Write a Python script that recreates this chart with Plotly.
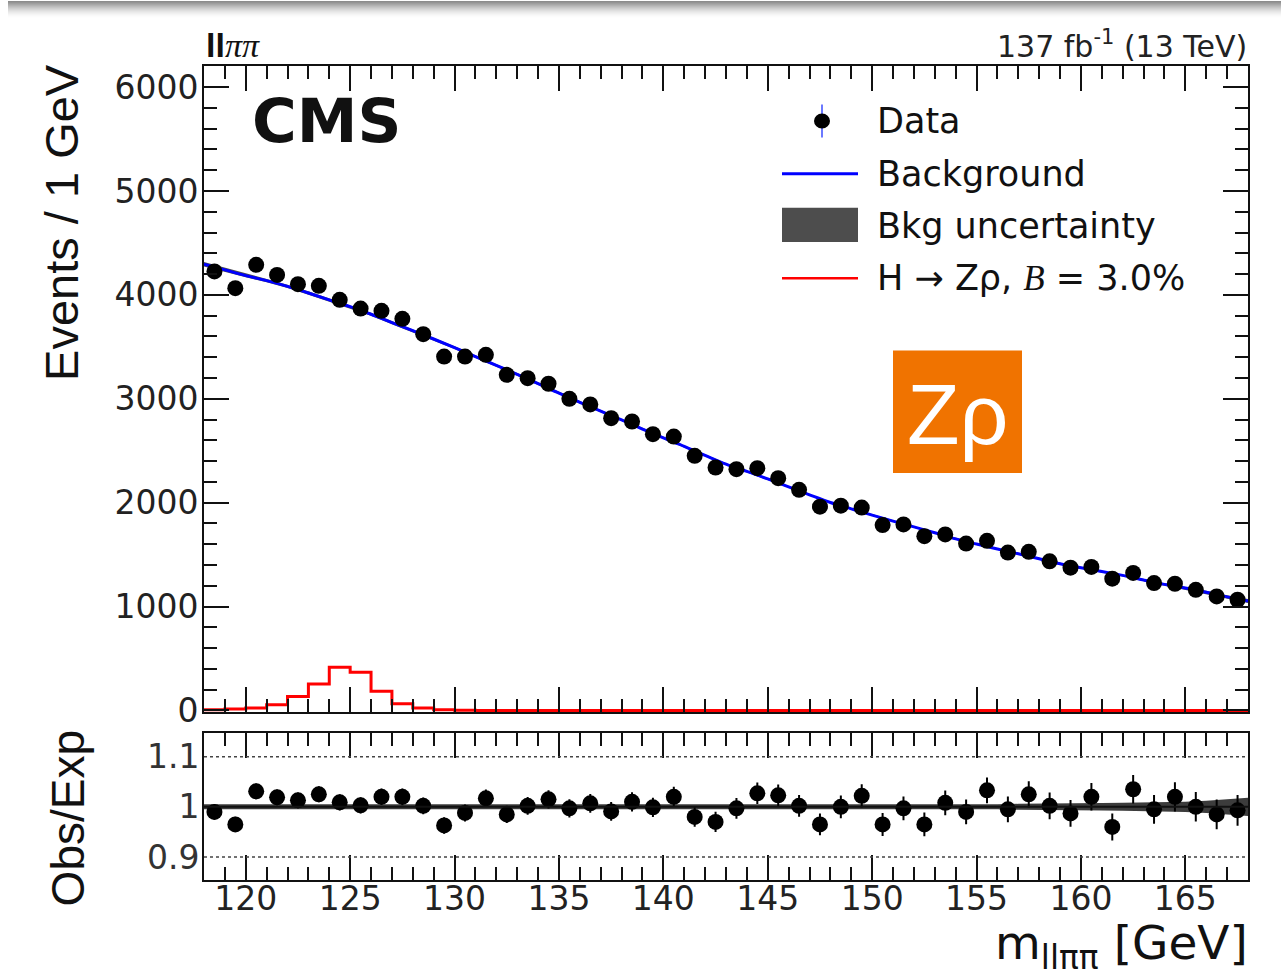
import numpy as np
import plotly.graph_objects as go

W, H = 1281, 980
H_PAPER = 958  # vertical pixel extent that paper coordinates span on the page

# ---- values -------------------------------------------------------------
# 1 GeV bins spanning 118-168 GeV
bin_edges = list(range(118, 169))
bin_centers = [e + 0.5 for e in range(118, 168)]

data_counts = [4225, 4064, 4289, 4192, 4103, 4087, 3952, 3868, 3846, 3769,
               3621, 3406, 3406, 3423, 3230, 3198, 3144, 2999, 2945, 2813,
               2781, 2659, 2636, 2450, 2338, 2322, 2332, 2235, 2123, 1961,
               1971, 1952, 1784, 1790, 1677, 1694, 1606, 1632, 1519, 1526,
               1435, 1374, 1381, 1268, 1323, 1226, 1219, 1161, 1097, 1065]

obs_exp = [0.990, 0.965, 1.031, 1.019, 1.013, 1.025, 1.009, 1.003, 1.020, 1.020,
           1.002, 0.963, 0.988, 1.017, 0.985, 1.002, 1.015, 0.997, 1.007, 0.991,
           1.010, 0.999, 1.020, 0.980, 0.970, 0.997, 1.027, 1.023, 1.002, 0.965,
           1.000, 1.022, 0.965, 0.997, 0.965, 1.008, 0.990, 1.033, 0.995, 1.025,
           1.002, 0.987, 1.020, 0.960, 1.035, 0.995, 1.020, 1.000, 0.985, 0.993]

# background fit evaluated at the bin edges
bkg_fit = [4295, 4240, 4185, 4137, 4082, 4018, 3952, 3886, 3813, 3733,
           3655, 3575, 3492, 3406, 3322, 3235, 3145, 3053, 2966, 2881,
           2796, 2708, 2623, 2542, 2455, 2370, 2300, 2228, 2152, 2075,
           2001, 1940, 1880, 1822, 1766, 1710, 1651, 1601, 1553, 1508,
           1460, 1412, 1373, 1337, 1300, 1255, 1213, 1178, 1137, 1093, 1053]

# relative background uncertainty at the bin edges
bkg_rel_unc = [0.005, 0.005, 0.004, 0.004, 0.004, 0.004, 0.004, 0.004, 0.004, 0.004,
               0.004, 0.004, 0.004, 0.004, 0.004, 0.004, 0.004, 0.004, 0.004, 0.004,
               0.004, 0.004, 0.004, 0.004, 0.004, 0.004, 0.004, 0.004, 0.004, 0.004,
               0.004, 0.004, 0.004, 0.004, 0.004, 0.004, 0.005, 0.005, 0.005, 0.006,
               0.006, 0.007, 0.007, 0.0075, 0.008, 0.0085, 0.009, 0.010, 0.012, 0.015, 0.018]

# H -> Z rho signal, B = 3.0 %
signal = [6, 13, 22, 55, 135, 255, 416, 368, 184, 65,
          23, 6, 2, 0, 0, 0, 0, 0, 0, 0,
          0, 0, 0, 0, 0, 0, 0, 0, 0, 0,
          0, 0, 0, 0, 0, 0, 0, 0, 0, 0,
          0, 0, 0, 0, 0, 0, 0, 0, 0, 0]

x_ticks = [120, 125, 130, 135, 140, 145, 150, 155, 160, 165]
ratio_ticks = [0.9, 1.0, 1.1]
ratio_tick_text = ["0.9", "1", "1.1"]

# ---- derived arrays --------------------------------------------------------
bkg = np.array(bkg_fit, dtype=float)
unc = np.array(bkg_rel_unc)
counts = np.array(data_counts, dtype=float)
ratio = np.array(obs_exp)
count_err = np.sqrt(counts)
ratio_err = ratio / np.sqrt(counts)

BLACK = "#111111"
FONT = "DejaVu Sans"
HELV = "Liberation Sans"


def px(x):
    return x / W


def py(y):
    return 1 - y / H_PAPER


fig = go.Figure()

# main panel: background uncertainty band
fig.add_trace(go.Scatter(x=bin_edges, y=bkg * (1 + unc), mode="lines",
                         line=dict(width=0), hoverinfo="skip", showlegend=False,
                         xaxis="x", yaxis="y"))
fig.add_trace(go.Scatter(x=bin_edges, y=bkg * (1 - unc), mode="lines",
                         line=dict(width=0), fill="tonexty", fillcolor="#4d4d4d",
                         hoverinfo="skip", showlegend=False, xaxis="x", yaxis="y"))
# background fit
fig.add_trace(go.Scatter(x=bin_edges, y=bkg, mode="lines",
                         line=dict(color="#0000ff", width=3, shape="spline"),
                         showlegend=False, xaxis="x", yaxis="y"))
# signal histogram
fig.add_trace(go.Scatter(x=bin_edges, y=signal + [signal[-1]], mode="lines",
                         line=dict(color="#ff0000", width=3, shape="hv"),
                         showlegend=False, xaxis="x", yaxis="y"))
# data
fig.add_trace(go.Scatter(x=bin_centers, y=counts, mode="markers",
                         marker=dict(color="black", size=16),
                         error_y=dict(type="data", array=count_err, color="black",
                                      thickness=2, width=0),
                         showlegend=False, xaxis="x", yaxis="y"))

# ratio panel: uncertainty band
fig.add_trace(go.Scatter(x=bin_edges, y=1 + unc, mode="lines", line=dict(width=0),
                         hoverinfo="skip", showlegend=False, xaxis="x2", yaxis="y2"))
fig.add_trace(go.Scatter(x=bin_edges, y=1 - unc, mode="lines", line=dict(width=0),
                         fill="tonexty", fillcolor="#3c3c3c", hoverinfo="skip",
                         showlegend=False, xaxis="x2", yaxis="y2"))
fig.add_trace(go.Scatter(x=bin_centers, y=ratio, mode="markers",
                         marker=dict(color="black", size=16),
                         error_y=dict(type="data", array=ratio_err, color="black",
                                      thickness=2, width=0),
                         showlegend=False, xaxis="x2", yaxis="y2"))

x_dom = [px(204), px(1248)]
common_x = dict(range=[118, 168], showline=True, linewidth=2, linecolor=BLACK,
                mirror="allticks", ticks="inside", ticklen=25, tickwidth=2,
                tickcolor=BLACK, tickvals=x_ticks, showgrid=False, zeroline=False,
                minor=dict(ticks="inside", ticklen=13, tickwidth=2, tickcolor=BLACK,
                           dtick=1, tick0=118, showgrid=False))

fig.update_layout(
    width=W, height=H,
    margin=dict(l=0, r=0, t=0, b=0),
    paper_bgcolor="white", plot_bgcolor="white",
    showlegend=False,
    xaxis=dict(domain=x_dom, anchor="y", showticklabels=False, **common_x),
    yaxis=dict(domain=[py(709), py(66)], anchor="x", range=[-15, 6200],
               showline=True, linewidth=2, linecolor=BLACK, mirror="allticks",
               ticks="inside", ticklen=25, tickwidth=2, tickcolor=BLACK,
               dtick=1000, tick0=0, showgrid=False, zeroline=False,
               tickfont=dict(family=FONT, size=33, color="#222222"),
               ticklabelstandoff=-3,
               minor=dict(ticks="inside", ticklen=13, tickwidth=2, tickcolor=BLACK,
                          dtick=200, showgrid=False)),
    xaxis2=dict(domain=x_dom, anchor="y2", showticklabels=True,
                tickfont=dict(family=FONT, size=33, color="#222222"),
                ticklabelstandoff=-11, **common_x),
    yaxis2=dict(domain=[py(876), py(730)], anchor="x2", range=[0.855, 1.147],
                showline=True, linewidth=2, linecolor=BLACK, mirror=True,
                ticks="", tickvals=ratio_ticks, ticktext=ratio_tick_text,
                showgrid=False, zeroline=False,
                tickfont=dict(family=FONT, size=33, color="#333333"),
                ticklabelstandoff=-4),
)

shapes = []
# dotted reference lines and unit line in the ratio panel
for yv in (0.9, 1.1):
    shapes.append(dict(type="line", xref="x2 domain", yref="y2", x0=0, x1=1,
                       y0=yv, y1=yv, line=dict(color="#444444", width=1.5, dash="dot")))
shapes.append(dict(type="line", xref="x2 domain", yref="y2", x0=0, x1=1, y0=1, y1=1,
                   line=dict(color=BLACK, width=2)))

# legend symbols
shapes += [
    dict(type="line", xref="paper", yref="paper", x0=px(822), x1=px(822),
         y0=py(104), y1=py(137), line=dict(color="#3a4cff", width=1.5)),
    dict(type="circle", xref="paper", yref="paper", x0=px(814), x1=px(830),
         y0=py(128), y1=py(113), fillcolor="black", line=dict(color="black", width=0)),
    dict(type="line", xref="paper", yref="paper", x0=px(782), x1=px(858),
         y0=py(173), y1=py(173), line=dict(color="#0000ff", width=3)),
    dict(type="rect", xref="paper", yref="paper", x0=px(782), x1=px(858),
         y0=py(241), y1=py(207), fillcolor="#4d4d4d", line=dict(width=0)),
    dict(type="line", xref="paper", yref="paper", x0=px(782), x1=px(858),
         y0=py(277), y1=py(277), line=dict(color="#ff0000", width=2.5)),
]

# header shadow strip
greys = [140, 148, 158, 168, 178, 188, 197, 206, 214, 222, 229, 235, 240, 245, 249, 252, 254]
for i, g in enumerate(greys):
    shapes.append(dict(type="rect", xref="paper", yref="paper", x0=px(8), x1=1,
                       y0=py(i + 2), y1=py(i + 1), fillcolor=f"rgb({g},{g},{g})",
                       line=dict(width=0), layer="below"))

# Z rho badge
shapes.append(dict(type="rect", xref="paper", yref="paper", x0=px(893), x1=px(1022),
                   y0=py(471), y1=py(349), fillcolor="#f07300", line=dict(width=0)))

fig.update_layout(shapes=shapes)


def ann(x, y, text, size, family=FONT, xanchor="left", yanchor="middle",
        color=BLACK, angle=0):
    fig.add_annotation(x=px(x), y=py(y), xref="paper", yref="paper", text=text,
                       showarrow=False, xanchor=xanchor, yanchor=yanchor,
                       textangle=angle, font=dict(family=family, size=size, color=color))


ann(250, 120, "<b>CMS</b>", 61)
ann(204, 45, "<b>ll</b><span style='font-family:Liberation Serif'><i>ππ</i></span>",
    34, family=HELV)
ann(1249, 44, "137 fb<sup>-1</sup> (13 TeV)", 30, xanchor="right", color="#222222")
ann(62, 222, "Events / 1 GeV", 47, family=HELV, xanchor="center", yanchor="middle",
    angle=-90)
ann(68, 815, "Obs/Exp", 46, family=HELV, xanchor="center", yanchor="middle", angle=-90)
ann(1250, 942, "m<sub>llππ</sub> [GeV]", 47, xanchor="right")

ann(875, 120, "Data", 35)
ann(875, 173, "Background", 35)
ann(875, 225, "Bkg uncertainty", 35)
ann(875, 277, "H → Zρ, <span style='font-family:Liberation Serif'><i>B</i></span> = 3.0%", 35)

ann(957, 412, "Zρ", 86, family=HELV, xanchor="center", color="white")

fig.write_html("out.html")
